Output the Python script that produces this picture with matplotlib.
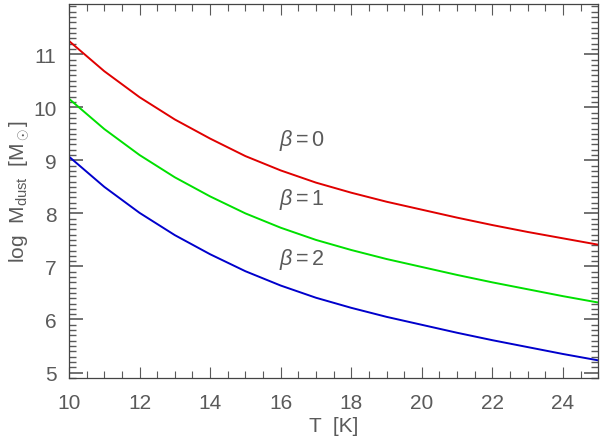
import matplotlib
matplotlib.use("Agg")
import matplotlib.pyplot as plt
from matplotlib.ticker import MultipleLocator

# temperatura [K] y log M_dust para beta = 0, 1, 2
temp = [10, 11, 12, 13, 14, 15, 16, 17, 18, 19, 20, 21, 22, 23, 24, 25]
m_beta0 = [11.25, 10.68, 10.19, 9.77, 9.41, 9.08, 8.81, 8.58, 8.39, 8.22, 8.07, 7.92, 7.78, 7.65, 7.53, 7.41]
m_beta1 = [10.16, 9.59, 9.10, 8.68, 8.32, 8.00, 7.73, 7.50, 7.31, 7.14, 6.99, 6.84, 6.70, 6.57, 6.44, 6.32]
m_beta2 = [9.07, 8.50, 8.01, 7.59, 7.23, 6.91, 6.64, 6.41, 6.22, 6.05, 5.90, 5.75, 5.61, 5.48, 5.35, 5.23]
etiquetas = [r'$\beta$$=$0', r'$\beta$$=$1', r'$\beta$$=$2']

plt.rcParams['font.family'] = ['Liberation Sans', 'DejaVu Sans']
plt.rcParams['mathtext.fontset'] = 'custom'
plt.rcParams['mathtext.rm'] = 'Liberation Sans'
plt.rcParams['mathtext.it'] = 'Liberation Sans:italic'

gris = '#5a5a5a'
fig = plt.figure(figsize=(6, 4.39), dpi=100)
ax = fig.add_axes([0.115, 0.137, 0.882, 0.852])

ax.plot(temp, m_beta0, color='#e00000', lw=1.4)
ax.plot(temp, m_beta1, color='#00e000', lw=1.4)
ax.plot(temp, m_beta2, color='#0000cc', lw=1.4)

# etiquetas de cada curva
for txt, yy in zip(etiquetas, [9.4, 8.28, 7.15]):
    ax.text(15.95, yy, txt, fontsize=15.5, color=gris, ha='left', va='center')

ax.set_xlim(10, 25)
ax.set_ylim(4.9, 11.95)
ax.xaxis.set_major_locator(MultipleLocator(2))
ax.xaxis.set_minor_locator(MultipleLocator(0.5))
ax.yaxis.set_major_locator(MultipleLocator(1))
ax.yaxis.set_minor_locator(MultipleLocator(0.1))

ax.tick_params(which='both', direction='in', top=True, right=True, colors=gris,
               labelsize=15, labelcolor=gris)
ax.tick_params(axis='y', which='major', length=10, width=1.2, pad=9)
ax.tick_params(axis='y', which='minor', length=5, width=1.0)
ax.tick_params(axis='x', which='major', length=8, width=0.8, pad=11)
ax.tick_params(axis='x', which='minor', length=5, width=0.8)
for s in ax.spines.values():
    s.set_color('#444444')
    s.set_linewidth(0.9)

ax.set_xlabel('T  [K]', fontsize=15, color=gris, labelpad=3)
ax.set_ylabel(r'log  M$_{\rm dust}$  [M$_\odot$]', fontsize=15, color=gris, labelpad=1)

fig.savefig('out.png', dpi=100)
